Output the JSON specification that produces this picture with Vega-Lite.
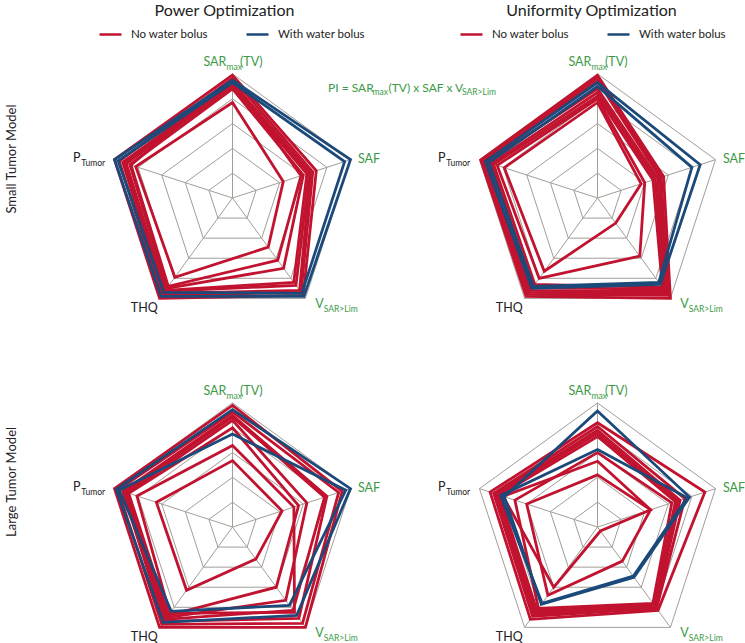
{
"$schema":"https://vega.github.io/schema/vega-lite/v6.json",
"padding":{"left":5,"top":3,"right":0,"bottom":0},
"background":"white",
"config":{"view":{"stroke":null},"font":"Lato","title":{"fontWeight":400}},
"datasets":{
"grid":[{"r":0.2,"ks":[0,1,2,3,4]},{"r":0.4,"ks":[0,1,2,3,4]},{"r":0.6,"ks":[0,1,2,3,4]},{"r":0.8,"ks":[0,1,2,3,4]},{"r":1.0,"ks":[0,1,2,3,4]}],
"spokes":[{"k":0},{"k":1},{"k":2},{"k":3},{"k":4}],
"labels":[{"t":"SAR","k":0},{"t":"max","k":0},{"t":"(TV)","k":0},{"t":"SAF","k":1},{"t":"V","k":2},{"t":"SAR>Lim","k":2},{"t":"THQ","k":3},{"t":"P","k":4},{"t":"Tumor","k":4}],
"pi":[{"t":"PI = SAR"},{"t":"max"},{"t":"(TV) x SAF x V"},{"t":"SAR>Lim"}],
"rows":[{"t":"Small Tumor Model"},{"t":"Large Tumor Model"}],
"series":[
{"p":"PS","id":"r1","g":"No water bolus","SAR":0.99,"SAF":0.71,"V":0.97,"THQ":1.0,"PT":1.0},
{"p":"PS","id":"r2","g":"No water bolus","SAR":0.965,"SAF":0.68,"V":0.94,"THQ":0.97,"PT":0.96},
{"p":"PS","id":"r3","g":"No water bolus","SAR":0.93,"SAF":0.66,"V":0.92,"THQ":0.95,"PT":0.93},
{"p":"PS","id":"r4","g":"No water bolus","SAR":0.92,"SAF":0.65,"V":0.87,"THQ":0.93,"PT":0.91},
{"p":"PS","id":"r5","g":"No water bolus","SAR":0.9,"SAF":0.63,"V":0.84,"THQ":0.92,"PT":0.9},
{"p":"PS","id":"r6","g":"No water bolus","SAR":0.88,"SAF":0.6,"V":0.7,"THQ":0.9,"PT":0.87},
{"p":"PS","id":"r7","g":"No water bolus","SAR":0.95,"SAF":0.58,"V":0.62,"THQ":0.88,"PT":0.86},
{"p":"PS","id":"r8","g":"No water bolus","SAR":0.77,"SAF":0.43,"V":0.49,"THQ":0.79,"PT":0.82},
{"p":"PS","id":"b1","g":"With water bolus","SAR":0.95,"SAF":1.0,"V":0.98,"THQ":0.98,"PT":1.0},
{"p":"PS","id":"b2","g":"With water bolus","SAR":0.93,"SAF":0.95,"V":0.95,"THQ":0.94,"PT":0.97},
{"p":"US","id":"r1","g":"No water bolus","SAR":0.99,"SAF":0.56,"V":1.0,"THQ":0.98,"PT":0.99},
{"p":"US","id":"r2","g":"No water bolus","SAR":0.97,"SAF":0.54,"V":0.97,"THQ":0.96,"PT":0.97},
{"p":"US","id":"r3","g":"No water bolus","SAR":0.945,"SAF":0.53,"V":0.95,"THQ":0.94,"PT":0.96},
{"p":"US","id":"r4","g":"No water bolus","SAR":0.88,"SAF":0.51,"V":0.93,"THQ":0.92,"PT":0.94},
{"p":"US","id":"r5","g":"No water bolus","SAR":0.85,"SAF":0.49,"V":0.91,"THQ":0.89,"PT":0.9},
{"p":"US","id":"r6","g":"No water bolus","SAR":0.82,"SAF":0.47,"V":0.89,"THQ":0.86,"PT":0.88},
{"p":"US","id":"r7","g":"No water bolus","SAR":0.8,"SAF":0.4,"V":0.58,"THQ":0.8,"PT":0.85},
{"p":"US","id":"r8","g":"No water bolus","SAR":0.77,"SAF":0.37,"V":0.25,"THQ":0.73,"PT":0.79},
{"p":"US","id":"b1","g":"With water bolus","SAR":0.93,"SAF":0.87,"V":0.86,"THQ":0.9,"PT":0.95},
{"p":"US","id":"b2","g":"With water bolus","SAR":0.9,"SAF":0.8,"V":0.84,"THQ":0.88,"PT":0.92},
{"p":"PL","id":"r1","g":"No water bolus","SAR":0.98,"SAF":0.93,"V":1.0,"THQ":1.0,"PT":1.0},
{"p":"PL","id":"r2","g":"No water bolus","SAR":0.927,"SAF":0.9,"V":0.96,"THQ":0.97,"PT":0.97},
{"p":"PL","id":"r3","g":"No water bolus","SAR":0.9,"SAF":0.8,"V":0.91,"THQ":0.94,"PT":0.93},
{"p":"PL","id":"r4","g":"No water bolus","SAR":0.886,"SAF":0.78,"V":0.83,"THQ":0.92,"PT":0.91},
{"p":"PL","id":"r5","g":"No water bolus","SAR":0.86,"SAF":0.63,"V":0.73,"THQ":0.9,"PT":0.89},
{"p":"PL","id":"r6","g":"No water bolus","SAR":0.8,"SAF":0.56,"V":0.6,"THQ":0.88,"PT":0.88},
{"p":"PL","id":"r7","g":"No water bolus","SAR":0.657,"SAF":0.52,"V":0.85,"THQ":0.86,"PT":0.81},
{"p":"PL","id":"r8","g":"No water bolus","SAR":0.535,"SAF":0.42,"V":0.32,"THQ":0.63,"PT":0.645},
{"p":"PL","id":"b1","g":"With water bolus","SAR":0.946,"SAF":1.0,"V":0.88,"THQ":0.95,"PT":0.985},
{"p":"PL","id":"b2","g":"With water bolus","SAR":0.75,"SAF":0.96,"V":0.78,"THQ":0.84,"PT":0.96},
{"p":"UL","id":"r1","g":"No water bolus","SAR":0.84,"SAF":0.91,"V":0.83,"THQ":0.92,"PT":0.91},
{"p":"UL","id":"r2","g":"No water bolus","SAR":0.81,"SAF":0.74,"V":0.81,"THQ":0.89,"PT":0.88},
{"p":"UL","id":"r3","g":"No water bolus","SAR":0.78,"SAF":0.7,"V":0.8,"THQ":0.87,"PT":0.86},
{"p":"UL","id":"r4","g":"No water bolus","SAR":0.755,"SAF":0.68,"V":0.78,"THQ":0.85,"PT":0.85},
{"p":"UL","id":"r5","g":"No water bolus","SAR":0.73,"SAF":0.66,"V":0.77,"THQ":0.83,"PT":0.83},
{"p":"UL","id":"r6","g":"No water bolus","SAR":0.6,"SAF":0.63,"V":0.76,"THQ":0.81,"PT":0.7},
{"p":"UL","id":"r7","g":"No water bolus","SAR":0.53,"SAF":0.45,"V":0.04,"THQ":0.6,"PT":0.8},
{"p":"UL","id":"r8","g":"No water bolus","SAR":0.42,"SAF":0.45,"V":0.34,"THQ":0.68,"PT":0.6},
{"p":"UL","id":"b1","g":"With water bolus","SAR":0.935,"SAF":0.78,"V":0.5,"THQ":0.77,"PT":0.79},
{"p":"UL","id":"b2","g":"With water bolus","SAR":0.625,"SAF":0.76,"V":0.49,"THQ":0.76,"PT":0.82}
]
},
"columns":2,
"spacing":{"row":29,"column":30},
"bounds":"flush",
"resolve":{"scale":{"x":"independent","y":"independent","color":"independent"},"legend":{"color":"independent"}},
"concat":[
{"width":335,"height":300,
"title":{"text":"Power Optimization","frame":"group","anchor":"middle","dx":-8,"offset":3,"fontSize":16,"font":"Lato","fontWeight":400,"color":"#222"},
"layer":[
{"data":{"name":"grid"},"transform":[{"flatten":["ks"],"as":["k"]},{"calculate":"datum.r*sin(datum.k*2*PI/5)","as":"x"},{"calculate":"datum.r*cos(datum.k*2*PI/5)","as":"y"}],"mark":{"type":"line","interpolate":"linear-closed","stroke":"#a39d98","strokeWidth":1},"encoding":{"x":{"field":"x","type":"quantitative","scale":{"domain":[-1.35,1.35],"nice":false,"zero":false},"axis":null},"y":{"field":"y","type":"quantitative","scale":{"domain":[-1.209,1.209],"nice":false,"zero":false},"axis":null},"detail":{"field":"r","type":"nominal"},"order":{"field":"k","type":"quantitative"}}},
{"data":{"name":"spokes"},"transform":[{"calculate":"sin(datum.k*2*PI/5)","as":"x"},{"calculate":"cos(datum.k*2*PI/5)","as":"y"}],"mark":{"type":"rule","stroke":"#a39d98","strokeWidth":1},"encoding":{"x":{"field":"x","type":"quantitative","scale":{"domain":[-1.35,1.35],"nice":false,"zero":false},"axis":null},"y":{"field":"y","type":"quantitative","scale":{"domain":[-1.209,1.209],"nice":false,"zero":false},"axis":null},"x2":{"datum":0},"y2":{"datum":0}}},
{"data":{"name":"series"},"transform":[{"filter":"datum.p==='PS'"},{"fold":["SAR","SAF","V","THQ","PT"],"as":["axis","v"]},{"calculate":"indexof(['SAR','SAF','V','THQ','PT'],datum.axis)","as":"k"},{"calculate":"datum.v*sin(datum.k*2*PI/5)","as":"x"},{"calculate":"datum.v*cos(datum.k*2*PI/5)","as":"y"}],"mark":{"type":"line","interpolate":"linear-closed","strokeWidth":2.8,"strokeJoin":"miter"},"encoding":{"x":{"field":"x","type":"quantitative","scale":{"domain":[-1.35,1.35],"nice":false,"zero":false},"axis":null},"y":{"field":"y","type":"quantitative","scale":{"domain":[-1.209,1.209],"nice":false,"zero":false},"axis":null},"detail":{"field":"id","type":"nominal"},"order":{"field":"k","type":"quantitative"},"color":{"field":"g","type":"nominal","scale":{"domain":["No water bolus","With water bolus"],"range":["#c1132f","#1b4a7a"]},"legend":{"orient":"none","legendX":33,"legendY":-26,"direction":"horizontal","title":null,"symbolType":"stroke","symbolSize":484,"symbolStrokeWidth":2.5,"labelFont":"Lato","labelFontSize":11.5,"labelColor":"#222","columnPadding":32,"labelOffset":8}}}},
{"data":{"name":"rows"},"transform":[{"filter":"datum.t==='Small Tumor Model'"}],"mark":{"type":"text","align":"center","baseline":"middle","angle":270,"fontSize":13,"fill":"#222"},"encoding":{"x":{"datum":-1.781,"type":"quantitative","scale":{"domain":[-1.35,1.35],"nice":false,"zero":false},"axis":null},"y":{"datum":0.314,"type":"quantitative","scale":{"domain":[-1.209,1.209],"nice":false,"zero":false},"axis":null},"text":{"field":"t"}}},
{"data":{"name":"labels"},"transform":[{"filter":"datum.t==='SAR'"},{"calculate":"1.08*sin(datum.k*2*PI/5)","as":"x"},{"calculate":"1.08*cos(datum.k*2*PI/5)","as":"y"}],"mark":{"type":"text","align":"left","baseline":"middle","dx":-29,"dy":-2,"fontSize":12.5,"fill":"#3c9a46"},"encoding":{"x":{"field":"x","type":"quantitative","scale":{"domain":[-1.35,1.35],"nice":false,"zero":false},"axis":null},"y":{"field":"y","type":"quantitative","scale":{"domain":[-1.209,1.209],"nice":false,"zero":false},"axis":null},"text":{"field":"t"}}},
{"data":{"name":"labels"},"transform":[{"filter":"datum.t==='max'"},{"calculate":"1.08*sin(datum.k*2*PI/5)","as":"x"},{"calculate":"1.08*cos(datum.k*2*PI/5)","as":"y"}],"mark":{"type":"text","align":"left","baseline":"middle","dx":-6,"dy":2.5,"fontSize":8.5,"fill":"#3c9a46"},"encoding":{"x":{"field":"x","type":"quantitative","scale":{"domain":[-1.35,1.35],"nice":false,"zero":false},"axis":null},"y":{"field":"y","type":"quantitative","scale":{"domain":[-1.209,1.209],"nice":false,"zero":false},"axis":null},"text":{"field":"t"}}},
{"data":{"name":"labels"},"transform":[{"filter":"datum.t==='(TV)'"},{"calculate":"1.08*sin(datum.k*2*PI/5)","as":"x"},{"calculate":"1.08*cos(datum.k*2*PI/5)","as":"y"}],"mark":{"type":"text","align":"left","baseline":"middle","dx":7.5,"dy":-2,"fontSize":12.5,"fill":"#3c9a46"},"encoding":{"x":{"field":"x","type":"quantitative","scale":{"domain":[-1.35,1.35],"nice":false,"zero":false},"axis":null},"y":{"field":"y","type":"quantitative","scale":{"domain":[-1.209,1.209],"nice":false,"zero":false},"axis":null},"text":{"field":"t"}}},
{"data":{"name":"labels"},"transform":[{"filter":"datum.t==='SAF'"},{"calculate":"1.08*sin(datum.k*2*PI/5)","as":"x"},{"calculate":"1.08*cos(datum.k*2*PI/5)","as":"y"}],"mark":{"type":"text","align":"left","baseline":"middle","dx":-2,"dy":2,"fontSize":12.5,"fill":"#3c9a46"},"encoding":{"x":{"field":"x","type":"quantitative","scale":{"domain":[-1.35,1.35],"nice":false,"zero":false},"axis":null},"y":{"field":"y","type":"quantitative","scale":{"domain":[-1.209,1.209],"nice":false,"zero":false},"axis":null},"text":{"field":"t"}}},
{"data":{"name":"labels"},"transform":[{"filter":"datum.t==='V'"},{"calculate":"1.08*sin(datum.k*2*PI/5)","as":"x"},{"calculate":"1.08*cos(datum.k*2*PI/5)","as":"y"}],"mark":{"type":"text","align":"left","baseline":"middle","dx":4,"dy":-2,"fontSize":12.5,"fill":"#3c9a46"},"encoding":{"x":{"field":"x","type":"quantitative","scale":{"domain":[-1.35,1.35],"nice":false,"zero":false},"axis":null},"y":{"field":"y","type":"quantitative","scale":{"domain":[-1.209,1.209],"nice":false,"zero":false},"axis":null},"text":{"field":"t"}}},
{"data":{"name":"labels"},"transform":[{"filter":"datum.t==='SAR>Lim'"},{"calculate":"1.08*sin(datum.k*2*PI/5)","as":"x"},{"calculate":"1.08*cos(datum.k*2*PI/5)","as":"y"}],"mark":{"type":"text","align":"left","baseline":"middle","dx":12.5,"dy":2.5,"fontSize":8.5,"fill":"#3c9a46"},"encoding":{"x":{"field":"x","type":"quantitative","scale":{"domain":[-1.35,1.35],"nice":false,"zero":false},"axis":null},"y":{"field":"y","type":"quantitative","scale":{"domain":[-1.209,1.209],"nice":false,"zero":false},"axis":null},"text":{"field":"t"}}},
{"data":{"name":"labels"},"transform":[{"filter":"datum.t==='THQ'"},{"calculate":"1.08*sin(datum.k*2*PI/5)","as":"x"},{"calculate":"1.08*cos(datum.k*2*PI/5)","as":"y"}],"mark":{"type":"text","align":"right","baseline":"middle","dx":4,"dy":2,"fontSize":12.5,"fill":"#222"},"encoding":{"x":{"field":"x","type":"quantitative","scale":{"domain":[-1.35,1.35],"nice":false,"zero":false},"axis":null},"y":{"field":"y","type":"quantitative","scale":{"domain":[-1.209,1.209],"nice":false,"zero":false},"axis":null},"text":{"field":"t"}}},
{"data":{"name":"labels"},"transform":[{"filter":"datum.t==='P'"},{"calculate":"1.08*sin(datum.k*2*PI/5)","as":"x"},{"calculate":"1.08*cos(datum.k*2*PI/5)","as":"y"}],"mark":{"type":"text","align":"right","baseline":"middle","dx":-24.5,"dy":1.5,"fontSize":12.5,"fill":"#222"},"encoding":{"x":{"field":"x","type":"quantitative","scale":{"domain":[-1.35,1.35],"nice":false,"zero":false},"axis":null},"y":{"field":"y","type":"quantitative","scale":{"domain":[-1.209,1.209],"nice":false,"zero":false},"axis":null},"text":{"field":"t"}}},
{"data":{"name":"labels"},"transform":[{"filter":"datum.t==='Tumor'"},{"calculate":"1.08*sin(datum.k*2*PI/5)","as":"x"},{"calculate":"1.08*cos(datum.k*2*PI/5)","as":"y"}],"mark":{"type":"text","align":"right","baseline":"middle","dx":0,"dy":6,"fontSize":8.5,"fill":"#222"},"encoding":{"x":{"field":"x","type":"quantitative","scale":{"domain":[-1.35,1.35],"nice":false,"zero":false},"axis":null},"y":{"field":"y","type":"quantitative","scale":{"domain":[-1.209,1.209],"nice":false,"zero":false},"axis":null},"text":{"field":"t"}}},
{"data":{"name":"pi"},"transform":[{"filter":"datum.t==='PI = SAR'"}],"mark":{"type":"text","align":"left","baseline":"middle","dx":0,"dy":0,"fontSize":12,"fill":"#3c9a46"},"encoding":{"x":{"datum":0.77,"type":"quantitative","scale":{"domain":[-1.35,1.35],"nice":false,"zero":false},"axis":null},"y":{"datum":0.89,"type":"quantitative","scale":{"domain":[-1.209,1.209],"nice":false,"zero":false},"axis":null},"text":{"field":"t"}}},
{"data":{"name":"pi"},"transform":[{"filter":"datum.t==='max'"}],"mark":{"type":"text","align":"left","baseline":"middle","dx":44.5,"dy":4.5,"fontSize":8.5,"fill":"#3c9a46"},"encoding":{"x":{"datum":0.77,"type":"quantitative","scale":{"domain":[-1.35,1.35],"nice":false,"zero":false},"axis":null},"y":{"datum":0.89,"type":"quantitative","scale":{"domain":[-1.209,1.209],"nice":false,"zero":false},"axis":null},"text":{"field":"t"}}},
{"data":{"name":"pi"},"transform":[{"filter":"datum.t==='(TV) x SAF x V'"}],"mark":{"type":"text","align":"left","baseline":"middle","dx":60.5,"dy":0,"fontSize":12,"fill":"#3c9a46"},"encoding":{"x":{"datum":0.77,"type":"quantitative","scale":{"domain":[-1.35,1.35],"nice":false,"zero":false},"axis":null},"y":{"datum":0.89,"type":"quantitative","scale":{"domain":[-1.209,1.209],"nice":false,"zero":false},"axis":null},"text":{"field":"t"}}},
{"data":{"name":"pi"},"transform":[{"filter":"datum.t==='SAR>Lim'"}],"mark":{"type":"text","align":"left","baseline":"middle","dx":134,"dy":4.5,"fontSize":8.5,"fill":"#3c9a46"},"encoding":{"x":{"datum":0.77,"type":"quantitative","scale":{"domain":[-1.35,1.35],"nice":false,"zero":false},"axis":null},"y":{"datum":0.89,"type":"quantitative","scale":{"domain":[-1.209,1.209],"nice":false,"zero":false},"axis":null},"text":{"field":"t"}}}
]},
{"width":335,"height":300,
"title":{"text":"Uniformity Optimization","frame":"group","anchor":"middle","dx":-6,"offset":3,"fontSize":16,"font":"Lato","fontWeight":400,"color":"#222"},
"layer":[
{"data":{"name":"grid"},"transform":[{"flatten":["ks"],"as":["k"]},{"calculate":"datum.r*sin(datum.k*2*PI/5)","as":"x"},{"calculate":"datum.r*cos(datum.k*2*PI/5)","as":"y"}],"mark":{"type":"line","interpolate":"linear-closed","stroke":"#a39d98","strokeWidth":1},"encoding":{"x":{"field":"x","type":"quantitative","scale":{"domain":[-1.35,1.35],"nice":false,"zero":false},"axis":null},"y":{"field":"y","type":"quantitative","scale":{"domain":[-1.209,1.209],"nice":false,"zero":false},"axis":null},"detail":{"field":"r","type":"nominal"},"order":{"field":"k","type":"quantitative"}}},
{"data":{"name":"spokes"},"transform":[{"calculate":"sin(datum.k*2*PI/5)","as":"x"},{"calculate":"cos(datum.k*2*PI/5)","as":"y"}],"mark":{"type":"rule","stroke":"#a39d98","strokeWidth":1},"encoding":{"x":{"field":"x","type":"quantitative","scale":{"domain":[-1.35,1.35],"nice":false,"zero":false},"axis":null},"y":{"field":"y","type":"quantitative","scale":{"domain":[-1.209,1.209],"nice":false,"zero":false},"axis":null},"x2":{"datum":0},"y2":{"datum":0}}},
{"data":{"name":"series"},"transform":[{"filter":"datum.p==='US'"},{"fold":["SAR","SAF","V","THQ","PT"],"as":["axis","v"]},{"calculate":"indexof(['SAR','SAF','V','THQ','PT'],datum.axis)","as":"k"},{"calculate":"datum.v*sin(datum.k*2*PI/5)","as":"x"},{"calculate":"datum.v*cos(datum.k*2*PI/5)","as":"y"}],"mark":{"type":"line","interpolate":"linear-closed","strokeWidth":2.8,"strokeJoin":"miter"},"encoding":{"x":{"field":"x","type":"quantitative","scale":{"domain":[-1.35,1.35],"nice":false,"zero":false},"axis":null},"y":{"field":"y","type":"quantitative","scale":{"domain":[-1.209,1.209],"nice":false,"zero":false},"axis":null},"detail":{"field":"id","type":"nominal"},"order":{"field":"k","type":"quantitative"},"color":{"field":"g","type":"nominal","scale":{"domain":["No water bolus","With water bolus"],"range":["#c1132f","#1b4a7a"]},"legend":{"orient":"none","legendX":29,"legendY":-26,"direction":"horizontal","title":null,"symbolType":"stroke","symbolSize":484,"symbolStrokeWidth":2.5,"labelFont":"Lato","labelFontSize":11.5,"labelColor":"#222","columnPadding":32,"labelOffset":8}}}},
{"data":{"name":"labels"},"transform":[{"filter":"datum.t==='SAR'"},{"calculate":"1.08*sin(datum.k*2*PI/5)","as":"x"},{"calculate":"1.08*cos(datum.k*2*PI/5)","as":"y"}],"mark":{"type":"text","align":"left","baseline":"middle","dx":-29,"dy":-2,"fontSize":12.5,"fill":"#3c9a46"},"encoding":{"x":{"field":"x","type":"quantitative","scale":{"domain":[-1.35,1.35],"nice":false,"zero":false},"axis":null},"y":{"field":"y","type":"quantitative","scale":{"domain":[-1.209,1.209],"nice":false,"zero":false},"axis":null},"text":{"field":"t"}}},
{"data":{"name":"labels"},"transform":[{"filter":"datum.t==='max'"},{"calculate":"1.08*sin(datum.k*2*PI/5)","as":"x"},{"calculate":"1.08*cos(datum.k*2*PI/5)","as":"y"}],"mark":{"type":"text","align":"left","baseline":"middle","dx":-6,"dy":2.5,"fontSize":8.5,"fill":"#3c9a46"},"encoding":{"x":{"field":"x","type":"quantitative","scale":{"domain":[-1.35,1.35],"nice":false,"zero":false},"axis":null},"y":{"field":"y","type":"quantitative","scale":{"domain":[-1.209,1.209],"nice":false,"zero":false},"axis":null},"text":{"field":"t"}}},
{"data":{"name":"labels"},"transform":[{"filter":"datum.t==='(TV)'"},{"calculate":"1.08*sin(datum.k*2*PI/5)","as":"x"},{"calculate":"1.08*cos(datum.k*2*PI/5)","as":"y"}],"mark":{"type":"text","align":"left","baseline":"middle","dx":7.5,"dy":-2,"fontSize":12.5,"fill":"#3c9a46"},"encoding":{"x":{"field":"x","type":"quantitative","scale":{"domain":[-1.35,1.35],"nice":false,"zero":false},"axis":null},"y":{"field":"y","type":"quantitative","scale":{"domain":[-1.209,1.209],"nice":false,"zero":false},"axis":null},"text":{"field":"t"}}},
{"data":{"name":"labels"},"transform":[{"filter":"datum.t==='SAF'"},{"calculate":"1.08*sin(datum.k*2*PI/5)","as":"x"},{"calculate":"1.08*cos(datum.k*2*PI/5)","as":"y"}],"mark":{"type":"text","align":"left","baseline":"middle","dx":-2,"dy":2,"fontSize":12.5,"fill":"#3c9a46"},"encoding":{"x":{"field":"x","type":"quantitative","scale":{"domain":[-1.35,1.35],"nice":false,"zero":false},"axis":null},"y":{"field":"y","type":"quantitative","scale":{"domain":[-1.209,1.209],"nice":false,"zero":false},"axis":null},"text":{"field":"t"}}},
{"data":{"name":"labels"},"transform":[{"filter":"datum.t==='V'"},{"calculate":"1.08*sin(datum.k*2*PI/5)","as":"x"},{"calculate":"1.08*cos(datum.k*2*PI/5)","as":"y"}],"mark":{"type":"text","align":"left","baseline":"middle","dx":4,"dy":-2,"fontSize":12.5,"fill":"#3c9a46"},"encoding":{"x":{"field":"x","type":"quantitative","scale":{"domain":[-1.35,1.35],"nice":false,"zero":false},"axis":null},"y":{"field":"y","type":"quantitative","scale":{"domain":[-1.209,1.209],"nice":false,"zero":false},"axis":null},"text":{"field":"t"}}},
{"data":{"name":"labels"},"transform":[{"filter":"datum.t==='SAR>Lim'"},{"calculate":"1.08*sin(datum.k*2*PI/5)","as":"x"},{"calculate":"1.08*cos(datum.k*2*PI/5)","as":"y"}],"mark":{"type":"text","align":"left","baseline":"middle","dx":12.5,"dy":2.5,"fontSize":8.5,"fill":"#3c9a46"},"encoding":{"x":{"field":"x","type":"quantitative","scale":{"domain":[-1.35,1.35],"nice":false,"zero":false},"axis":null},"y":{"field":"y","type":"quantitative","scale":{"domain":[-1.209,1.209],"nice":false,"zero":false},"axis":null},"text":{"field":"t"}}},
{"data":{"name":"labels"},"transform":[{"filter":"datum.t==='THQ'"},{"calculate":"1.08*sin(datum.k*2*PI/5)","as":"x"},{"calculate":"1.08*cos(datum.k*2*PI/5)","as":"y"}],"mark":{"type":"text","align":"right","baseline":"middle","dx":4,"dy":2,"fontSize":12.5,"fill":"#222"},"encoding":{"x":{"field":"x","type":"quantitative","scale":{"domain":[-1.35,1.35],"nice":false,"zero":false},"axis":null},"y":{"field":"y","type":"quantitative","scale":{"domain":[-1.209,1.209],"nice":false,"zero":false},"axis":null},"text":{"field":"t"}}},
{"data":{"name":"labels"},"transform":[{"filter":"datum.t==='P'"},{"calculate":"1.08*sin(datum.k*2*PI/5)","as":"x"},{"calculate":"1.08*cos(datum.k*2*PI/5)","as":"y"}],"mark":{"type":"text","align":"right","baseline":"middle","dx":-24.5,"dy":1.5,"fontSize":12.5,"fill":"#222"},"encoding":{"x":{"field":"x","type":"quantitative","scale":{"domain":[-1.35,1.35],"nice":false,"zero":false},"axis":null},"y":{"field":"y","type":"quantitative","scale":{"domain":[-1.209,1.209],"nice":false,"zero":false},"axis":null},"text":{"field":"t"}}},
{"data":{"name":"labels"},"transform":[{"filter":"datum.t==='Tumor'"},{"calculate":"1.08*sin(datum.k*2*PI/5)","as":"x"},{"calculate":"1.08*cos(datum.k*2*PI/5)","as":"y"}],"mark":{"type":"text","align":"right","baseline":"middle","dx":0,"dy":6,"fontSize":8.5,"fill":"#222"},"encoding":{"x":{"field":"x","type":"quantitative","scale":{"domain":[-1.35,1.35],"nice":false,"zero":false},"axis":null},"y":{"field":"y","type":"quantitative","scale":{"domain":[-1.209,1.209],"nice":false,"zero":false},"axis":null},"text":{"field":"t"}}}
]},
{"width":335,"height":300,
"layer":[
{"data":{"name":"grid"},"transform":[{"flatten":["ks"],"as":["k"]},{"calculate":"datum.r*sin(datum.k*2*PI/5)","as":"x"},{"calculate":"datum.r*cos(datum.k*2*PI/5)","as":"y"}],"mark":{"type":"line","interpolate":"linear-closed","stroke":"#a39d98","strokeWidth":1},"encoding":{"x":{"field":"x","type":"quantitative","scale":{"domain":[-1.35,1.35],"nice":false,"zero":false},"axis":null},"y":{"field":"y","type":"quantitative","scale":{"domain":[-1.209,1.209],"nice":false,"zero":false},"axis":null},"detail":{"field":"r","type":"nominal"},"order":{"field":"k","type":"quantitative"}}},
{"data":{"name":"spokes"},"transform":[{"calculate":"sin(datum.k*2*PI/5)","as":"x"},{"calculate":"cos(datum.k*2*PI/5)","as":"y"}],"mark":{"type":"rule","stroke":"#a39d98","strokeWidth":1},"encoding":{"x":{"field":"x","type":"quantitative","scale":{"domain":[-1.35,1.35],"nice":false,"zero":false},"axis":null},"y":{"field":"y","type":"quantitative","scale":{"domain":[-1.209,1.209],"nice":false,"zero":false},"axis":null},"x2":{"datum":0},"y2":{"datum":0}}},
{"data":{"name":"series"},"transform":[{"filter":"datum.p==='PL'"},{"fold":["SAR","SAF","V","THQ","PT"],"as":["axis","v"]},{"calculate":"indexof(['SAR','SAF','V','THQ','PT'],datum.axis)","as":"k"},{"calculate":"datum.v*sin(datum.k*2*PI/5)","as":"x"},{"calculate":"datum.v*cos(datum.k*2*PI/5)","as":"y"}],"mark":{"type":"line","interpolate":"linear-closed","strokeWidth":2.8,"strokeJoin":"miter"},"encoding":{"x":{"field":"x","type":"quantitative","scale":{"domain":[-1.35,1.35],"nice":false,"zero":false},"axis":null},"y":{"field":"y","type":"quantitative","scale":{"domain":[-1.209,1.209],"nice":false,"zero":false},"axis":null},"detail":{"field":"id","type":"nominal"},"order":{"field":"k","type":"quantitative"},"color":{"field":"g","type":"nominal","scale":{"domain":["No water bolus","With water bolus"],"range":["#c1132f","#1b4a7a"]},"legend":null}}},
{"data":{"name":"rows"},"transform":[{"filter":"datum.t==='Large Tumor Model'"}],"mark":{"type":"text","align":"center","baseline":"middle","angle":270,"fontSize":13,"fill":"#222"},"encoding":{"x":{"datum":-1.781,"type":"quantitative","scale":{"domain":[-1.35,1.35],"nice":false,"zero":false},"axis":null},"y":{"datum":0.363,"type":"quantitative","scale":{"domain":[-1.209,1.209],"nice":false,"zero":false},"axis":null},"text":{"field":"t"}}},
{"data":{"name":"labels"},"transform":[{"filter":"datum.t==='SAR'"},{"calculate":"1.08*sin(datum.k*2*PI/5)","as":"x"},{"calculate":"1.08*cos(datum.k*2*PI/5)","as":"y"}],"mark":{"type":"text","align":"left","baseline":"middle","dx":-29,"dy":-2,"fontSize":12.5,"fill":"#3c9a46"},"encoding":{"x":{"field":"x","type":"quantitative","scale":{"domain":[-1.35,1.35],"nice":false,"zero":false},"axis":null},"y":{"field":"y","type":"quantitative","scale":{"domain":[-1.209,1.209],"nice":false,"zero":false},"axis":null},"text":{"field":"t"}}},
{"data":{"name":"labels"},"transform":[{"filter":"datum.t==='max'"},{"calculate":"1.08*sin(datum.k*2*PI/5)","as":"x"},{"calculate":"1.08*cos(datum.k*2*PI/5)","as":"y"}],"mark":{"type":"text","align":"left","baseline":"middle","dx":-6,"dy":2.5,"fontSize":8.5,"fill":"#3c9a46"},"encoding":{"x":{"field":"x","type":"quantitative","scale":{"domain":[-1.35,1.35],"nice":false,"zero":false},"axis":null},"y":{"field":"y","type":"quantitative","scale":{"domain":[-1.209,1.209],"nice":false,"zero":false},"axis":null},"text":{"field":"t"}}},
{"data":{"name":"labels"},"transform":[{"filter":"datum.t==='(TV)'"},{"calculate":"1.08*sin(datum.k*2*PI/5)","as":"x"},{"calculate":"1.08*cos(datum.k*2*PI/5)","as":"y"}],"mark":{"type":"text","align":"left","baseline":"middle","dx":7.5,"dy":-2,"fontSize":12.5,"fill":"#3c9a46"},"encoding":{"x":{"field":"x","type":"quantitative","scale":{"domain":[-1.35,1.35],"nice":false,"zero":false},"axis":null},"y":{"field":"y","type":"quantitative","scale":{"domain":[-1.209,1.209],"nice":false,"zero":false},"axis":null},"text":{"field":"t"}}},
{"data":{"name":"labels"},"transform":[{"filter":"datum.t==='SAF'"},{"calculate":"1.08*sin(datum.k*2*PI/5)","as":"x"},{"calculate":"1.08*cos(datum.k*2*PI/5)","as":"y"}],"mark":{"type":"text","align":"left","baseline":"middle","dx":-2,"dy":2,"fontSize":12.5,"fill":"#3c9a46"},"encoding":{"x":{"field":"x","type":"quantitative","scale":{"domain":[-1.35,1.35],"nice":false,"zero":false},"axis":null},"y":{"field":"y","type":"quantitative","scale":{"domain":[-1.209,1.209],"nice":false,"zero":false},"axis":null},"text":{"field":"t"}}},
{"data":{"name":"labels"},"transform":[{"filter":"datum.t==='V'"},{"calculate":"1.08*sin(datum.k*2*PI/5)","as":"x"},{"calculate":"1.08*cos(datum.k*2*PI/5)","as":"y"}],"mark":{"type":"text","align":"left","baseline":"middle","dx":4,"dy":-2,"fontSize":12.5,"fill":"#3c9a46"},"encoding":{"x":{"field":"x","type":"quantitative","scale":{"domain":[-1.35,1.35],"nice":false,"zero":false},"axis":null},"y":{"field":"y","type":"quantitative","scale":{"domain":[-1.209,1.209],"nice":false,"zero":false},"axis":null},"text":{"field":"t"}}},
{"data":{"name":"labels"},"transform":[{"filter":"datum.t==='SAR>Lim'"},{"calculate":"1.08*sin(datum.k*2*PI/5)","as":"x"},{"calculate":"1.08*cos(datum.k*2*PI/5)","as":"y"}],"mark":{"type":"text","align":"left","baseline":"middle","dx":12.5,"dy":2.5,"fontSize":8.5,"fill":"#3c9a46"},"encoding":{"x":{"field":"x","type":"quantitative","scale":{"domain":[-1.35,1.35],"nice":false,"zero":false},"axis":null},"y":{"field":"y","type":"quantitative","scale":{"domain":[-1.209,1.209],"nice":false,"zero":false},"axis":null},"text":{"field":"t"}}},
{"data":{"name":"labels"},"transform":[{"filter":"datum.t==='THQ'"},{"calculate":"1.08*sin(datum.k*2*PI/5)","as":"x"},{"calculate":"1.08*cos(datum.k*2*PI/5)","as":"y"}],"mark":{"type":"text","align":"right","baseline":"middle","dx":4,"dy":2,"fontSize":12.5,"fill":"#222"},"encoding":{"x":{"field":"x","type":"quantitative","scale":{"domain":[-1.35,1.35],"nice":false,"zero":false},"axis":null},"y":{"field":"y","type":"quantitative","scale":{"domain":[-1.209,1.209],"nice":false,"zero":false},"axis":null},"text":{"field":"t"}}},
{"data":{"name":"labels"},"transform":[{"filter":"datum.t==='P'"},{"calculate":"1.08*sin(datum.k*2*PI/5)","as":"x"},{"calculate":"1.08*cos(datum.k*2*PI/5)","as":"y"}],"mark":{"type":"text","align":"right","baseline":"middle","dx":-24.5,"dy":1.5,"fontSize":12.5,"fill":"#222"},"encoding":{"x":{"field":"x","type":"quantitative","scale":{"domain":[-1.35,1.35],"nice":false,"zero":false},"axis":null},"y":{"field":"y","type":"quantitative","scale":{"domain":[-1.209,1.209],"nice":false,"zero":false},"axis":null},"text":{"field":"t"}}},
{"data":{"name":"labels"},"transform":[{"filter":"datum.t==='Tumor'"},{"calculate":"1.08*sin(datum.k*2*PI/5)","as":"x"},{"calculate":"1.08*cos(datum.k*2*PI/5)","as":"y"}],"mark":{"type":"text","align":"right","baseline":"middle","dx":0,"dy":6,"fontSize":8.5,"fill":"#222"},"encoding":{"x":{"field":"x","type":"quantitative","scale":{"domain":[-1.35,1.35],"nice":false,"zero":false},"axis":null},"y":{"field":"y","type":"quantitative","scale":{"domain":[-1.209,1.209],"nice":false,"zero":false},"axis":null},"text":{"field":"t"}}}
]},
{"width":335,"height":300,
"layer":[
{"data":{"name":"grid"},"transform":[{"flatten":["ks"],"as":["k"]},{"calculate":"datum.r*sin(datum.k*2*PI/5)","as":"x"},{"calculate":"datum.r*cos(datum.k*2*PI/5)","as":"y"}],"mark":{"type":"line","interpolate":"linear-closed","stroke":"#a39d98","strokeWidth":1},"encoding":{"x":{"field":"x","type":"quantitative","scale":{"domain":[-1.35,1.35],"nice":false,"zero":false},"axis":null},"y":{"field":"y","type":"quantitative","scale":{"domain":[-1.209,1.209],"nice":false,"zero":false},"axis":null},"detail":{"field":"r","type":"nominal"},"order":{"field":"k","type":"quantitative"}}},
{"data":{"name":"spokes"},"transform":[{"calculate":"sin(datum.k*2*PI/5)","as":"x"},{"calculate":"cos(datum.k*2*PI/5)","as":"y"}],"mark":{"type":"rule","stroke":"#a39d98","strokeWidth":1},"encoding":{"x":{"field":"x","type":"quantitative","scale":{"domain":[-1.35,1.35],"nice":false,"zero":false},"axis":null},"y":{"field":"y","type":"quantitative","scale":{"domain":[-1.209,1.209],"nice":false,"zero":false},"axis":null},"x2":{"datum":0},"y2":{"datum":0}}},
{"data":{"name":"series"},"transform":[{"filter":"datum.p==='UL'"},{"fold":["SAR","SAF","V","THQ","PT"],"as":["axis","v"]},{"calculate":"indexof(['SAR','SAF','V','THQ','PT'],datum.axis)","as":"k"},{"calculate":"datum.v*sin(datum.k*2*PI/5)","as":"x"},{"calculate":"datum.v*cos(datum.k*2*PI/5)","as":"y"}],"mark":{"type":"line","interpolate":"linear-closed","strokeWidth":2.8,"strokeJoin":"miter"},"encoding":{"x":{"field":"x","type":"quantitative","scale":{"domain":[-1.35,1.35],"nice":false,"zero":false},"axis":null},"y":{"field":"y","type":"quantitative","scale":{"domain":[-1.209,1.209],"nice":false,"zero":false},"axis":null},"detail":{"field":"id","type":"nominal"},"order":{"field":"k","type":"quantitative"},"color":{"field":"g","type":"nominal","scale":{"domain":["No water bolus","With water bolus"],"range":["#c1132f","#1b4a7a"]},"legend":null}}},
{"data":{"name":"labels"},"transform":[{"filter":"datum.t==='SAR'"},{"calculate":"1.08*sin(datum.k*2*PI/5)","as":"x"},{"calculate":"1.08*cos(datum.k*2*PI/5)","as":"y"}],"mark":{"type":"text","align":"left","baseline":"middle","dx":-29,"dy":-2,"fontSize":12.5,"fill":"#3c9a46"},"encoding":{"x":{"field":"x","type":"quantitative","scale":{"domain":[-1.35,1.35],"nice":false,"zero":false},"axis":null},"y":{"field":"y","type":"quantitative","scale":{"domain":[-1.209,1.209],"nice":false,"zero":false},"axis":null},"text":{"field":"t"}}},
{"data":{"name":"labels"},"transform":[{"filter":"datum.t==='max'"},{"calculate":"1.08*sin(datum.k*2*PI/5)","as":"x"},{"calculate":"1.08*cos(datum.k*2*PI/5)","as":"y"}],"mark":{"type":"text","align":"left","baseline":"middle","dx":-6,"dy":2.5,"fontSize":8.5,"fill":"#3c9a46"},"encoding":{"x":{"field":"x","type":"quantitative","scale":{"domain":[-1.35,1.35],"nice":false,"zero":false},"axis":null},"y":{"field":"y","type":"quantitative","scale":{"domain":[-1.209,1.209],"nice":false,"zero":false},"axis":null},"text":{"field":"t"}}},
{"data":{"name":"labels"},"transform":[{"filter":"datum.t==='(TV)'"},{"calculate":"1.08*sin(datum.k*2*PI/5)","as":"x"},{"calculate":"1.08*cos(datum.k*2*PI/5)","as":"y"}],"mark":{"type":"text","align":"left","baseline":"middle","dx":7.5,"dy":-2,"fontSize":12.5,"fill":"#3c9a46"},"encoding":{"x":{"field":"x","type":"quantitative","scale":{"domain":[-1.35,1.35],"nice":false,"zero":false},"axis":null},"y":{"field":"y","type":"quantitative","scale":{"domain":[-1.209,1.209],"nice":false,"zero":false},"axis":null},"text":{"field":"t"}}},
{"data":{"name":"labels"},"transform":[{"filter":"datum.t==='SAF'"},{"calculate":"1.08*sin(datum.k*2*PI/5)","as":"x"},{"calculate":"1.08*cos(datum.k*2*PI/5)","as":"y"}],"mark":{"type":"text","align":"left","baseline":"middle","dx":-2,"dy":2,"fontSize":12.5,"fill":"#3c9a46"},"encoding":{"x":{"field":"x","type":"quantitative","scale":{"domain":[-1.35,1.35],"nice":false,"zero":false},"axis":null},"y":{"field":"y","type":"quantitative","scale":{"domain":[-1.209,1.209],"nice":false,"zero":false},"axis":null},"text":{"field":"t"}}},
{"data":{"name":"labels"},"transform":[{"filter":"datum.t==='V'"},{"calculate":"1.08*sin(datum.k*2*PI/5)","as":"x"},{"calculate":"1.08*cos(datum.k*2*PI/5)","as":"y"}],"mark":{"type":"text","align":"left","baseline":"middle","dx":4,"dy":-2,"fontSize":12.5,"fill":"#3c9a46"},"encoding":{"x":{"field":"x","type":"quantitative","scale":{"domain":[-1.35,1.35],"nice":false,"zero":false},"axis":null},"y":{"field":"y","type":"quantitative","scale":{"domain":[-1.209,1.209],"nice":false,"zero":false},"axis":null},"text":{"field":"t"}}},
{"data":{"name":"labels"},"transform":[{"filter":"datum.t==='SAR>Lim'"},{"calculate":"1.08*sin(datum.k*2*PI/5)","as":"x"},{"calculate":"1.08*cos(datum.k*2*PI/5)","as":"y"}],"mark":{"type":"text","align":"left","baseline":"middle","dx":12.5,"dy":2.5,"fontSize":8.5,"fill":"#3c9a46"},"encoding":{"x":{"field":"x","type":"quantitative","scale":{"domain":[-1.35,1.35],"nice":false,"zero":false},"axis":null},"y":{"field":"y","type":"quantitative","scale":{"domain":[-1.209,1.209],"nice":false,"zero":false},"axis":null},"text":{"field":"t"}}},
{"data":{"name":"labels"},"transform":[{"filter":"datum.t==='THQ'"},{"calculate":"1.08*sin(datum.k*2*PI/5)","as":"x"},{"calculate":"1.08*cos(datum.k*2*PI/5)","as":"y"}],"mark":{"type":"text","align":"right","baseline":"middle","dx":4,"dy":2,"fontSize":12.5,"fill":"#222"},"encoding":{"x":{"field":"x","type":"quantitative","scale":{"domain":[-1.35,1.35],"nice":false,"zero":false},"axis":null},"y":{"field":"y","type":"quantitative","scale":{"domain":[-1.209,1.209],"nice":false,"zero":false},"axis":null},"text":{"field":"t"}}},
{"data":{"name":"labels"},"transform":[{"filter":"datum.t==='P'"},{"calculate":"1.08*sin(datum.k*2*PI/5)","as":"x"},{"calculate":"1.08*cos(datum.k*2*PI/5)","as":"y"}],"mark":{"type":"text","align":"right","baseline":"middle","dx":-24.5,"dy":1.5,"fontSize":12.5,"fill":"#222"},"encoding":{"x":{"field":"x","type":"quantitative","scale":{"domain":[-1.35,1.35],"nice":false,"zero":false},"axis":null},"y":{"field":"y","type":"quantitative","scale":{"domain":[-1.209,1.209],"nice":false,"zero":false},"axis":null},"text":{"field":"t"}}},
{"data":{"name":"labels"},"transform":[{"filter":"datum.t==='Tumor'"},{"calculate":"1.08*sin(datum.k*2*PI/5)","as":"x"},{"calculate":"1.08*cos(datum.k*2*PI/5)","as":"y"}],"mark":{"type":"text","align":"right","baseline":"middle","dx":0,"dy":6,"fontSize":8.5,"fill":"#222"},"encoding":{"x":{"field":"x","type":"quantitative","scale":{"domain":[-1.35,1.35],"nice":false,"zero":false},"axis":null},"y":{"field":"y","type":"quantitative","scale":{"domain":[-1.209,1.209],"nice":false,"zero":false},"axis":null},"text":{"field":"t"}}}
]}
]
}
